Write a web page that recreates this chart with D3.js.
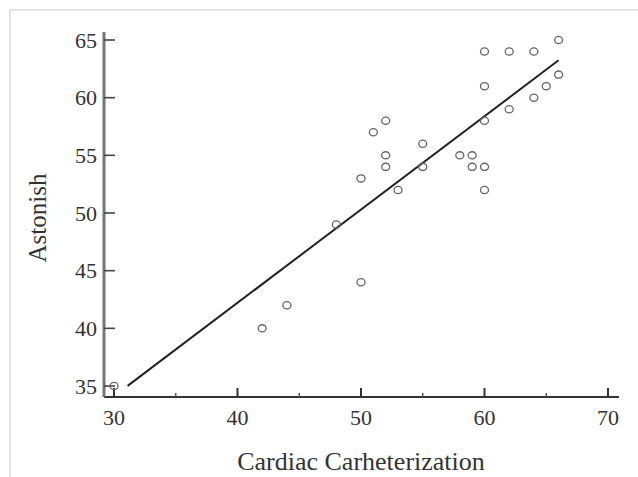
<!DOCTYPE html>
<html>
<head>
<meta charset="utf-8">
<script src="https://cdn.jsdelivr.net/npm/d3@7"></script>
<style>
  html, body { margin: 0; padding: 0; background: #fff; }
  svg { display: block; }
</style>
</head>
<body>
<div id="chart"></div>
<script>
// Cardiac catheterization vs. astonish scores
const cardiac  = [30, 42, 44, 48, 50, 50, 51, 52, 52, 52, 53, 55, 55, 58,
                  59, 59, 60, 60, 60, 60, 60, 62, 64, 66, 66, 65, 64, 62];
const astonish = [35, 40, 42, 49, 44, 53, 57, 58, 55, 54, 52, 56, 54, 55,
                  55, 54, 54, 52, 58, 61, 64, 64, 64, 65, 62, 61, 60, 59];
const xTicks = [30, 40, 50, 60, 70];
const xMinorTicks = [35, 45, 55, 65];
const yTicks = [35, 40, 45, 50, 55, 60, 65];
const fitRange = [31.1, 66];

const width = 638, height = 477;
const fontFamily = "'Liberation Serif', 'Times New Roman', serif";

const svg = d3.select("#chart").append("svg")
  .attr("width", width)
  .attr("height", height);

// light frame from the source figure
svg.append("path")
  .attr("d", `M10,${height} L10,10 L${width},10`)
  .attr("fill", "none")
  .attr("stroke", "#e2e2e2")
  .attr("stroke-width", 2);

const x = d3.scaleLinear().domain([30, 70]).range([114, 608]);
const y = d3.scaleLinear().domain([35, 65]).range([386, 40]);

const axisY = 397, axisX = 104;

// x axis
const gx = svg.append("g").attr("transform", `translate(0,${axisY})`);
gx.append("line")
  .attr("x1", axisX).attr("x2", 619)
  .attr("stroke", "#333").attr("stroke-width", 2);
gx.selectAll(".major").data(xTicks).join("line")
  .attr("x1", d => x(d)).attr("x2", d => x(d))
  .attr("y1", 0).attr("y2", -9)
  .attr("stroke", "#333").attr("stroke-width", 2);
gx.selectAll(".minor").data(xMinorTicks).join("line")
  .attr("x1", d => x(d)).attr("x2", d => x(d))
  .attr("y1", 0).attr("y2", -4)
  .attr("stroke", "#555").attr("stroke-width", 1.5);
gx.selectAll("text").data(xTicks).join("text")
  .attr("x", d => x(d))
  .attr("y", 28)
  .attr("text-anchor", "middle")
  .attr("font-family", fontFamily)
  .attr("font-size", 22)
  .attr("fill", "#333")
  .text(d => d);

// y axis
const gy = svg.append("g").attr("transform", `translate(${axisX},0)`);
gy.append("line")
  .attr("y1", 32).attr("y2", axisY)
  .attr("stroke", "#777").attr("stroke-width", 3);
gy.selectAll(".tick").data(yTicks).join("line")
  .attr("x1", 0).attr("x2", 11)
  .attr("y1", d => y(d)).attr("y2", d => y(d))
  .attr("stroke", "#444").attr("stroke-width", 1.6);
gy.selectAll("text").data(yTicks).join("text")
  .attr("x", -7)
  .attr("y", d => y(d))
  .attr("dy", "0.35em")
  .attr("text-anchor", "end")
  .attr("font-family", fontFamily)
  .attr("font-size", 22)
  .attr("fill", "#333")
  .text(d => d);

// axis titles
svg.append("text")
  .attr("x", 361)
  .attr("y", 470)
  .attr("text-anchor", "middle")
  .attr("font-family", fontFamily)
  .attr("font-size", 26)
  .attr("fill", "#333")
  .text("Cardiac Carheterization");

svg.append("text")
  .attr("transform", "translate(46,218) rotate(-90)")
  .attr("text-anchor", "middle")
  .attr("font-family", fontFamily)
  .attr("font-size", 25)
  .attr("fill", "#333")
  .text("Astonish");

// least-squares fit computed from the data
const points = cardiac.map((c, i) => ({ x: c, y: astonish[i] }));
const mx = d3.mean(points, d => d.x), my = d3.mean(points, d => d.y);
const slope = d3.sum(points, d => (d.x - mx) * (d.y - my)) /
              d3.sum(points, d => (d.x - mx) ** 2);
const intercept = my - slope * mx;

svg.append("line")
  .attr("x1", x(fitRange[0])).attr("y1", y(intercept + slope * fitRange[0]))
  .attr("x2", x(fitRange[1])).attr("y2", y(intercept + slope * fitRange[1]))
  .attr("stroke", "#222")
  .attr("stroke-width", 2);

// points
svg.append("g").selectAll("ellipse").data(points).join("ellipse")
  .attr("cx", d => x(d.x))
  .attr("cy", d => y(d.y))
  .attr("rx", 4)
  .attr("ry", 3.6)
  .attr("fill", "none")
  .attr("stroke", "#666")
  .attr("stroke-width", 1.3);
</script>
</body>
</html>
